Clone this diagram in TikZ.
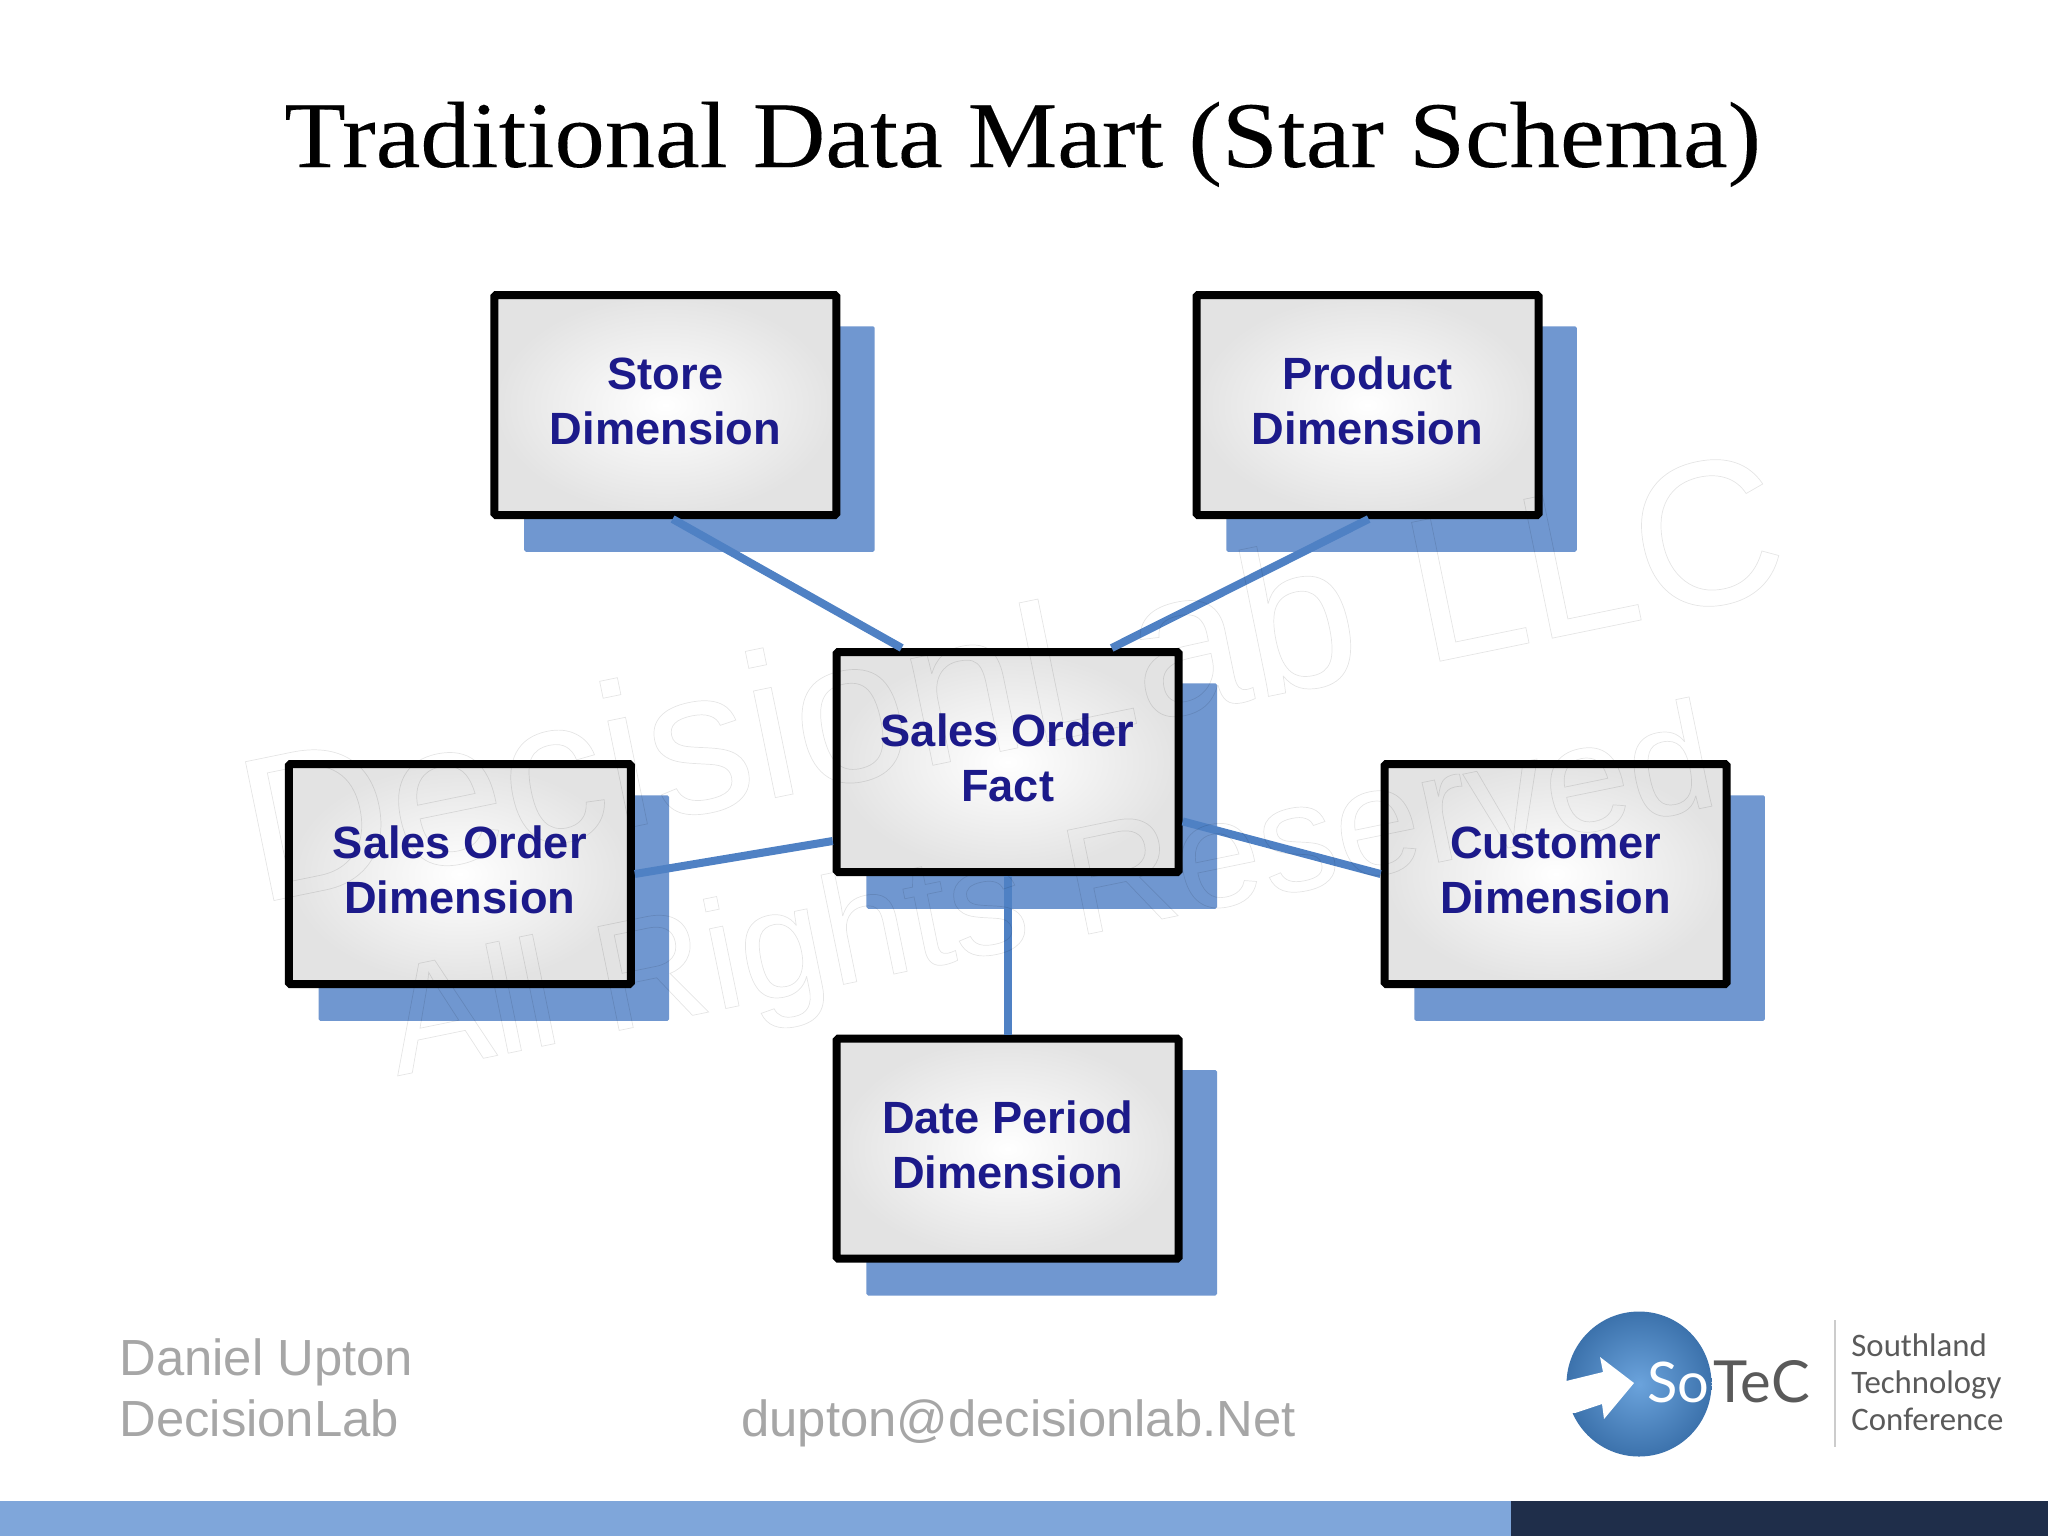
\documentclass[tikz,border=0pt]{standalone}
\usepackage{fontspec}
\setmainfont{Liberation Sans}
\newfontfamily\titlefont[FakeStretch=1.07,FakeBold=0.12]{Liberation Serif}
\newfontfamily\logofont{Lato}
\newfontfamily\logotextfont{Carlito}
\usetikzlibrary{shadows,calc}
\definecolor{barblue}{HTML}{7FA6DA}
\definecolor{bardark}{HTML}{1F2E4A}
\definecolor{shadowblue}{HTML}{7097D0}
\definecolor{linkblue}{HTML}{4F81C4}
\definecolor{labelnavy}{HTML}{1C1A8A}
\definecolor{footgray}{HTML}{A6A6A6}
\definecolor{logogray}{HTML}{5A5A5A}
\definecolor{logoinner}{HTML}{6BA3DC}
\definecolor{logoedge}{HTML}{3C72AC}
\newcommand{\outlinetext}[1]{\special{pdf:code 1 Tr 0.35 w}#1\special{pdf:code 0 Tr 1 w}}
\tikzset{dimbox/.style={
    draw=black, line width=4pt, rectangle, rounded corners=0.8pt,
    minimum width=171pt, minimum height=110pt,
    inner color=white, outer color=black!11,
    align=center, text=labelnavy, text depth=4pt,
    font=\fontsize{22.6}{27.4}\selectfont\bfseries,
    drop shadow={shadow xshift=16.6pt, shadow yshift=-16.6pt, shadow scale=1.025,
      fill=shadowblue, opacity=1}
  },
  linkline/.style={linkblue, line width=4pt},
  footer/.style={text=footgray, font=\fontsize{25.4}{30.7}\selectfont, inner sep=0pt},
  watermark/.style={text=black, opacity=0.1, rotate=11.6, inner sep=0pt, anchor=base west}
}
\begin{document}
\begin{tikzpicture}[x=0.5pt,y=-0.5pt]
  \useasboundingbox (0,0) rectangle (2048,1536);
  \node[font=\titlefont\fontsize{47}{50}\selectfont, anchor=base] (title) at (1022.6,167)
    {Traditional Data Mart (Star Schema)};
  % the boxes
  \foreach \name/\x/\y/\txt in {
      store/665.4/405/Store\\Dimension,
      product/1367.5/405/Product\\Dimension,
      salesdim/459.8/874/Sales Order\\Dimension,
      customer/1555.6/874/Customer\\Dimension,
      date/1007.7/1148.7/Date Period\\Dimension,
      fact/1007.7/762/Sales Order\\Fact} {
    \node[dimbox] (\name) at (\x,\y) {\txt};
  }
  \draw[linkline] ([xshift=3.6pt]store.south) -- ([xshift=-53pt]fact.north);
  \draw[linkline] ([xshift=0.6pt]product.south) -- ([xshift=52pt]fact.north);
  \draw[linkline] (salesdim.east) -- ([yshift=-39.5pt]fact.west);
  \draw[linkline] ([yshift=-29.7pt]fact.east) -- (customer.west);
  \draw[linkline] (fact.south) -- (date.north);
  % watermark
  \node[watermark, font=\fontsize{103}{108}\selectfont] (markone) at (257,904)
    {\outlinetext{DecisionLab LLC}};
  \node[watermark, font=\fontsize{77}{82}\selectfont] (marktwo) at (397,1076)
    {\outlinetext{All Rights Reserved}};
  % footer
  \node[footer, anchor=base west] (author) at (119,1375) {Daniel Upton};
  \node[footer, anchor=base west] (company) at (119,1436) {DecisionLab};
  \node[footer, anchor=base west] (email) at (741,1436) {dupton@decisionlab.Net};
  % logo
  \shade[inner color=logoinner, outer color=logoedge] (1639,1384) circle [radius=72.5];
  \fill[white] (1634,1383) -- (1600,1357) -- (1603,1372) -- (1558,1383) -- (1558,1412)
    -- (1575,1413) -- (1602,1404) -- (1604,1419) -- cycle;
  \node[text=white, font=\logofont\fontsize{28}{30}\selectfont, anchor=base west, inner sep=0pt] (logoso) at (1647,1402) {So};
  \node[text=logogray, font=\logofont\fontsize{29}{30}\selectfont, anchor=base west, inner sep=0pt] (logotec) at (1713,1402) {TeC};
  \draw[black!20, line width=1pt] (1835,1320) -- (1835,1447);
  \node[text=logogray, font=\logotextfont\fontsize{16.4}{18.4}\selectfont, align=left, anchor=west, inner sep=0pt] (logotext) at (1851,1382)
    {Southland\\Technology\\Conference};
  % bottom bar
  \fill[barblue] (0,1501) rectangle (1512,1536);
  \fill[bardark] (1511,1501) rectangle (2048,1536);
\end{tikzpicture}
\end{document}
